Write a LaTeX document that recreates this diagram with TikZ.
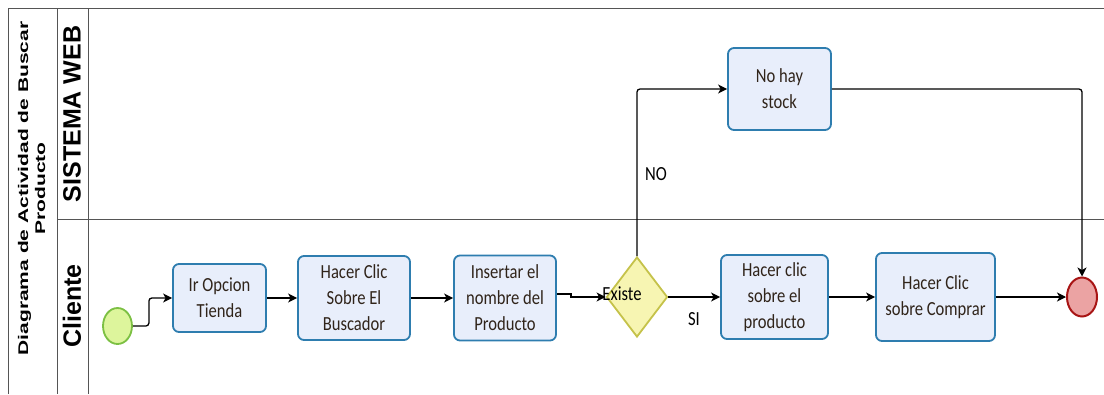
\documentclass[tikz,border=0pt]{standalone}
\usepackage{fontspec}
\usetikzlibrary{arrows.meta,shapes.geometric,calc}
\setmainfont{Liberation Sans}
\newfontfamily\boxfont[FakeStretch=0.83]{Carlito}
\newfontfamily\titlefont[FakeStretch=1.5]{Liberation Sans}
\definecolor{taskfill}{HTML}{E8EEFB}
\definecolor{taskdraw}{HTML}{2E7DAF}
\definecolor{txt}{HTML}{30241A}
\definecolor{gwfill}{HTML}{F7F5B2}
\definecolor{gwdraw}{HTML}{C5C24A}
\definecolor{stfill}{HTML}{DDF59C}
\definecolor{stdraw}{HTML}{7CC043}
\definecolor{enfill}{HTML}{EBA3A3}
\definecolor{endraw}{HTML}{A81515}
\definecolor{framec}{HTML}{555555}
\begin{document}
\begin{tikzpicture}[x=1pt,y=-1pt,
 task/.style={draw=taskdraw,fill=taskfill,line width=1.8pt,rounded corners=6pt,inner sep=0pt,align=center,text=txt,font=\boxfont\fontsize{20}{26}\selectfont},
 flow/.style={draw=black,line width=1.3pt,-{Stealth[length=9pt,width=9pt,inset=2.5pt]}},
 lbl/.style={font=\boxfont\fontsize{20}{24}\selectfont,text=black,inner sep=0pt},
 lane/.style={draw=framec,line width=1pt},
 lanetxt/.style={rotate=90,font=\bfseries\fontsize{25}{30}\selectfont,inner sep=0pt}
]
\useasboundingbox (0,0) rectangle (1104,394);
% frame
\draw[lane] (8,394) -- (8,8) -- (1104,8);
\draw[lane] (57,8) -- (57,394);
\draw[lane] (88,8) -- (88,394);
\draw[lane] (57,219) -- (1104,219);
% titles
\node[rotate=90,align=center,inner sep=0pt,font=\titlefont\bfseries\fontsize{14}{17}\selectfont] (title) at (31.5,188.5) {Diagrama de Actividad de Buscar\\Producto};
\node[lanetxt] (lweb) at (72,114) {SISTEMA WEB};
\node[lanetxt] (lcli) at (72,306) {Cliente};
% nodes
\node[ellipse,draw=stdraw,fill=stfill,line width=1.8pt,minimum width=29pt,minimum height=36pt,inner sep=0pt] (start) at (117.5,326) {};
\node[task,minimum width=93pt,minimum height=68pt] (ir) at (219.5,298) {Ir Opcion\\Tienda};
\node[task,minimum width=112pt,minimum height=84pt] (bus) at (354,298) {Hacer Clic\\Sobre El\\Buscador};
\node[task,minimum width=102pt,minimum height=85pt] (ins) at (505,298) {Insertar el\\nombre del\\Producto};
\node[diamond,draw=gwdraw,fill=gwfill,line width=1.8pt,minimum width=61pt,minimum height=80pt,inner sep=0pt] (ex) at (637,297) {};
\node[lbl] (exlbl) at (622,294) {Existe};
\node[task,minimum width=107pt,minimum height=84pt] (prod) at (774.5,297) {Hacer clic\\sobre el\\producto};
\node[task,minimum width=119pt,minimum height=88pt] (comp) at (935.5,297) {Hacer Clic\\sobre Comprar};
\node[task,minimum width=103pt,minimum height=82pt] (nohay) at (779.5,89) {No hay\\stock};
\node[ellipse,draw=endraw,fill=enfill,line width=2pt,minimum width=30pt,minimum height=39pt,inner sep=0pt] (end) at (1082,297) {};
% connectors
\draw[flow,rounded corners=3pt] (start.east) -- ++(16,0) |- (ir.west);
\draw[flow] (ir.east) -- (bus.west);
\draw[flow] (bus.east) -- (ins.west);
\draw[flow] ([yshift=4pt]ins.east) -- ++(14,0) |- (ex.west);
\draw[flow] (ex.east) -- (prod.west);
\node[lbl] (si) at (694,319) {SI};
\draw[flow,rounded corners=3pt] (ex.north) |- (nohay.west);
\node[lbl] (no) at (656,174) {NO};
\draw[flow,rounded corners=3pt] (nohay.east) -| (end.north);
\draw[flow] (prod.east) -- (comp.west);
\draw[flow] (comp.east) -- (end.west);
\end{tikzpicture}
\end{document}
